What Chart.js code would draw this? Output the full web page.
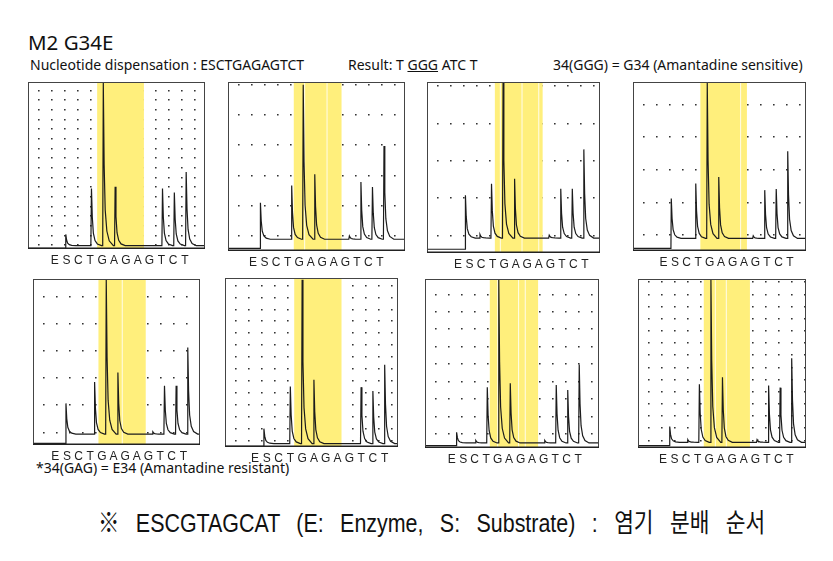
<!DOCTYPE html>
<html><head><meta charset="utf-8">
<script src="https://cdn.jsdelivr.net/npm/chart.js@4/dist/chart.umd.min.js"></script>
<style>
body{margin:0;background:#fff;width:833px;height:561px;position:relative;overflow:hidden;font-family:'Noto Sans',sans-serif;color:#111}
.t{position:absolute;white-space:nowrap;line-height:1}
canvas{position:absolute}
</style></head><body>
<div class="t" style="left:28px;top:32px;font-size:20.5px">M2 G34E</div>
<div class="t" style="left:30px;top:58px;font-size:14px">Nucleotide dispensation : ESCTGAGAGTCT</div>
<div class="t" style="left:348px;top:58px;font-size:14px">Result: T <u>GGG</u> ATC T</div>
<div class="t" style="left:553px;top:58px;font-size:14px">34(GGG) = G34 (Amantadine sensitive)</div>
<div class="t" style="left:36px;top:461px;font-size:14px">*34(GAG) = E34 (Amantadine resistant)</div>
<div class="t" style="left:98px;top:510px;font-size:26px;word-spacing:12.7px;transform:scaleX(0.824);transform-origin:0 0;font-family:'Liberation Sans','Noto Sans CJK KR',sans-serif">※ ESCGTAGCAT (E: Enzyme, S: Substrate) : 염기 분배 순서</div>
<div id="wrap"></div>
<script>
// Dispensation order (x tick labels)
const dispensation = ['E','S','C','T','G','A','G','A','G','T','C','T'];

// Peak tip levels (percent of panel height) per dispensation, panels 1-8
const peaksP1 = [0, 8.8, 0, 36.4, 100, 37.4, 0, 0, 0, 36.4, 34, 46.4];
const peaksP2 = [0, 28.7, 0, 39, 98.8, 45.6, 0, 0, 9, 41, 38, 62.5];
const peaksP3 = [0, 33.9, 11, 40.7, 100, 43.6, 0, 0, 10.5, 37.8, 37.8, 60.9];
const peaksP4 = [0, 31.2, 0, 40.1, 100, 44, 0, 0, 9, 36.2, 36.8, 59.3];
const peaksP5 = [0, 25.2, 0, 38.2, 100, 43.9, 0, 0, 8, 35.8, 35.8, 59];
const peaksP6 = [0, 10.9, 0, 36, 99.4, 40, 0, 0, 0, 35.6, 33.3, 48.9];
const peaksP7 = [0, 9.3, 4.5, 36.1, 100, 38.5, 0, 0, 4.5, 37.5, 34.5, 49.7];
const peaksP8 = [0, 12.8, 5, 37.9, 100, 42, 0, 0, 5, 37.1, 35.9, 53.3];

// Baseline before / after substrate, substrate step position
const baselinePre = [0.4, 1.6, 2.2, 1.6, 1, 0.4, 1.4, 1.4];
const baselinePost = [2, 7, 8.8, 7.5, 6.6, 2, 3, 3.4];
const substrateStep = [0.93, 0.64, 0.64, 0.67, 0.92, 0.76, 0.43, 0.58];
const peakOffset = [0.1, 0.35, -0.1, -0.2, 0.38, 0, 0.1, 0.15];

// Highlighted (yellow) dispensation range per panel
const highlightStart = [3.58, 3.53, 3.19, 3.2, 3.71, 3.33, 3.32, 3.53];
const highlightEnd = [7.53, 7.67, 7.33, 7.25, 7.77, 7.34, 7.52, 7.53];
const highlightGaps = [[], [4.43, 6.37], [3.62, 5.5, 6.95], [6.66], [5.71], [], [3.96, 5.78, 6.36], [4.49, 5.44]];

// Layout
const frames = [[28,82,205,249],[228,82,405,251],[427,82,600,253],[633,82,806,251],
                [33,279,200,445],[225,278,398,447],[425,279,599,448],[638,279,806,448]];
const xRanges = [[-2.26,12.69],[-2.17,13.17],[-2.69,12.3],[-2.66,12.39],
                 [-1.91,12.43],[-2.54,12.13],[-2.32,12.82],[-2.17,12.39]];
const gridSpec = [[2.4,5.81,17],[8.9,18.02,6],[10.4,21.9,5],[9.5,19.4,5],
                  [7.6,16.48,6],[3.96,7.08,14],[8.5,10.35,9],[4.5,7.24,14]];

const allPeaks = [peaksP1,peaksP2,peaksP3,peaksP4,peaksP5,peaksP6,peaksP7,peaksP8];

function spike(pts, x, h, base){
  const d = h-base;
  pts.push({x:x-0.05,y:base},{x:x,y:h},{x:x+0.07,y:base+d*0.5},{x:x+0.16,y:base+d*0.22},
           {x:x+0.3,y:base+d*0.09},{x:x+0.5,y:base+d*0.03},{x:x+0.85,y:base});
}
function trace(k){
  const p = allPeaks[k], off = peakOffset[k], pre = baselinePre[k], post = baselinePost[k];
  const [xmin,xmax] = xRanges[k];
  const pts = [{x:xmin,y:pre}];
  const s = substrateStep[k], d = p[1]-post;
  pts.push({x:s-0.03,y:pre},{x:s,y:p[1]},{x:s+0.07,y:post+d*0.5},{x:s+0.16,y:post+d*0.22},
           {x:s+0.3,y:post+d*0.09},{x:s+0.5,y:post+d*0.03},{x:s+0.85,y:post});
  for(let i=2;i<p.length;i++){ if(p[i]) spike(pts, i+off, p[i], post); }
  pts.push({x:xmax,y:post});
  return pts;
}

const wrap = document.getElementById('wrap');
frames.forEach((f,k)=>{
  const [L,T,R,B] = f;
  const c = document.createElement('canvas');
  const W = R-L, H = B-T+18;
  c.width = W; c.height = H;
  c.style.left = L+'px'; c.style.top = T+'px'; c.style.width = W+'px'; c.style.height = H+'px';
  wrap.appendChild(c);
  const [g0,gs,gn] = gridSpec[k];
  const gridVals = Array.from({length:gn},(_,i)=>g0+i*gs);
  const hl = {
    id:'hl'+k,
    beforeDatasetsDraw(chart){
      const {ctx, chartArea:a, scales:{x}} = chart;
      ctx.save();
      const x0 = x.getPixelForValue(highlightStart[k]), x1 = x.getPixelForValue(highlightEnd[k]);
      ctx.fillStyle = '#FFEF7C';
      ctx.fillRect(x0, a.top, x1-x0, a.bottom-a.top);
      ctx.fillStyle = 'rgba(255,255,255,0.85)';
      highlightGaps[k].forEach(g=>{ const gx = x.getPixelForValue(g); ctx.fillRect(gx, a.top, 1, a.bottom-a.top); });
      ctx.restore();
    },
    afterDraw(chart){
      const {ctx, chartArea:a} = chart;
      ctx.save();
      ctx.strokeStyle = '#444'; ctx.lineWidth = 1;
      ctx.strokeRect(a.left+0.5, a.top+0.5, a.right-a.left-1, a.bottom-a.top-1);
      ctx.strokeStyle = '#222'; ctx.lineWidth = 1.5;
      ctx.beginPath(); ctx.moveTo(a.left, a.bottom-0.75); ctx.lineTo(a.right, a.bottom-0.75); ctx.stroke();
      ctx.restore();
    }
  };
  new Chart(c.getContext('2d'), {
    type:'line',
    data:{datasets:[{data:trace(k), borderColor:'#1c1c1c', borderWidth:1.2, pointRadius:0, tension:0, fill:false}]},
    options:{
      responsive:false, animation:false, devicePixelRatio:1,
      layout:{padding:0},
      plugins:{legend:{display:false}, tooltip:{enabled:false}},
      scales:{
        x:{type:'linear', min:xRanges[k][0], max:xRanges[k][1],
           afterBuildTicks:s=>{ s.ticks = dispensation.map((_,i)=>({value:i})); },
           afterFit:s=>{ s.height = 18; },
           grid:{display:false, drawTicks:false}, border:{display:false},
           ticks:{padding:4, color:'#222', autoSkip:false, maxRotation:0,
                  font:{size:12, family:'Liberation Sans'},
                  callback:v=>dispensation[Math.round(v)]}},
        y:{min:0, max:100.5,
           afterBuildTicks:s=>{ s.ticks = gridVals.map(v=>({value:v})); },
           afterFit:s=>{ s.width = 0; },
           ticks:{display:false},
           grid:{color:'#333', lineWidth:1.6, drawTicks:false},
           border:{display:false, dash:[1.6,11.4], dashOffset:3}}
      }
    },
    plugins:[hl]
  });
});
</script>
</body></html>
